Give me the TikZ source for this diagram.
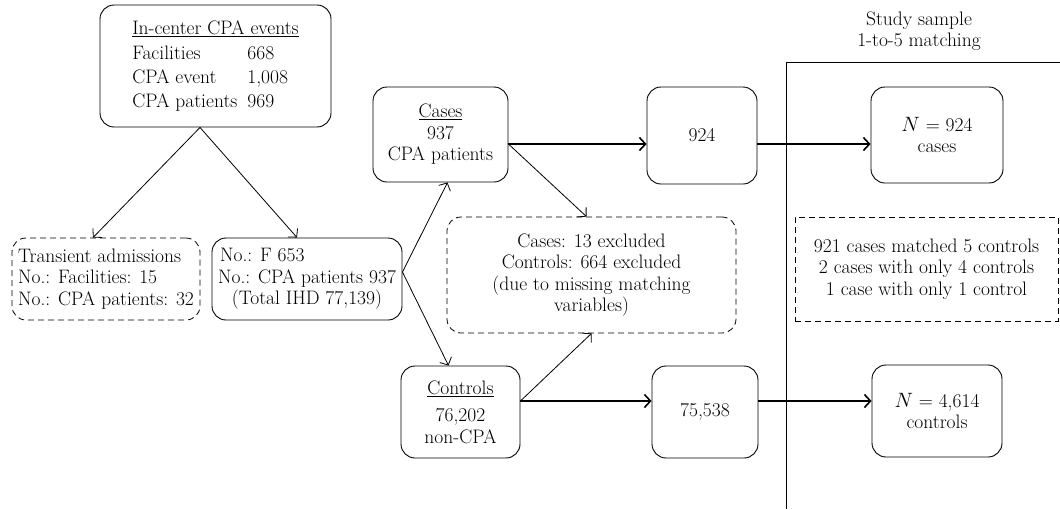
\documentclass[tikz,border=0pt]{standalone}
\usepackage{fontspec}
\usetikzlibrary{arrows.meta,calc}
\newcommand\fsz{\fontsize{19.5}{21.5}\selectfont}
\begin{document}
\begin{tikzpicture}[x=1pt,y=-1pt,
  box/.style={draw, rounded corners=14pt, line width=0.9pt, align=center, inner sep=0pt, font=\fsz},
  dbox/.style={box, line width=0.8pt, dashed, dash pattern=on 6pt off 4pt},
  arr/.style={-{Straight Barb[length=6pt,width=13pt]}, line width=0.8pt},
  harr/.style={-{Straight Barb[length=6pt,width=13pt]}, line width=1.6pt},
]
\useasboundingbox (0,0) rectangle (1060,509);

\node[box, minimum width=231pt, minimum height=122pt] (top) at (215.5,66)
  {\fontsize{19.5}{24}\selectfont\begin{tabular}{@{}l@{\hspace{10pt}}l@{}}
   \multicolumn{2}{@{}l@{}}{\underline{In-center CPA events}}\\[1pt]
   Facilities & 668\\
   CPA event & 1,008\\
   CPA patients & 969
   \end{tabular}};

\node[dbox, minimum width=188pt, minimum height=82pt, align=left] (trans) at (106,279)
  {Transient admissions\\No.: Facilities: 15\\No.: CPA patients: 32};

\node[box, minimum width=190pt, minimum height=82pt] (nof) at (307,279)
  {\fsz\begin{tabular}{@{}c@{}}
   \multicolumn{1}{@{\hspace{2pt}}l@{}}{No.: F 653}\\
   No.: CPA patients 937\\
   (Total IHD 77,139)
   \end{tabular}};

\node[box, minimum width=135pt, minimum height=95pt] (cases) at (440.5,134.5)
  {\underline{Cases}\\937\\CPA patients};

\node[box, minimum width=110pt, minimum height=97pt] (n924) at (702,135.5) {924};

\node[dbox, minimum width=289pt, minimum height=116pt] (excl) at (591.5,275)
  {Cases: 13 excluded\\Controls: 664 excluded\\(due to missing matching\\variables)};

\node[box, minimum width=119pt, minimum height=92pt] (controls) at (460.5,412)
  {\underline{Controls}\\[6pt]76,202\\non-CPA};

\node[box, minimum width=106pt, minimum height=92pt] (n75538) at (705,412)
  {\raisebox{-4pt}{75,538}};

\node[box, minimum width=132pt, minimum height=96pt] (ncases) at (937,135)
  {$N$ = 924\\cases};

\node[dbox, rounded corners=0pt, minimum width=263pt, minimum height=104pt] (match) at (926.5,269)
  {921 cases matched 5 controls\\2 cases with only 4 controls\\1 case with only 1 control};

\node[box, minimum width=130pt, minimum height=92pt] (ncontrols) at (937,411)
  {$N$ = 4,614\\controls};

\node[font=\fsz, align=center, inner sep=0pt] (title) at (919,31)
  {Study sample\\1-to-5 matching};

\coordinate (vb) at (786,509);
\coordinate (vt) at (786,62);
\coordinate (hr) at (1060,62);
\draw[line width=0.9pt] (vb) -- (vt) -- (hr);

\coordinate (r1) at (0,144);
\coordinate (r2) at (0,401);

\draw[arr] ([xshift=-15.5pt]top.south) -- ([xshift=-13pt]trans.north);
\draw[arr] ([xshift=-15.5pt]top.south) -- ([xshift=-10pt]nof.north);
\draw[arr] ([yshift=7pt]nof.east) -- ([xshift=7pt]cases.south);
\draw[arr] ([yshift=7pt]nof.east) -- ([xshift=-12pt]controls.north);
\draw[arr] (cases.east |- r1) -- ([xshift=-5pt]excl.north);
\draw[arr] (controls.east |- r2) -- (excl.south);
\draw[harr] (cases.east |- r1) -- (n924.west |- r1);
\draw[harr] (n924.east |- r1) -- (ncases.west |- r1);
\draw[harr] (controls.east |- r2) -- (n75538.west |- r2);
\draw[harr] (n75538.east |- r2) -- (ncontrols.west |- r2);
\end{tikzpicture}
\end{document}
